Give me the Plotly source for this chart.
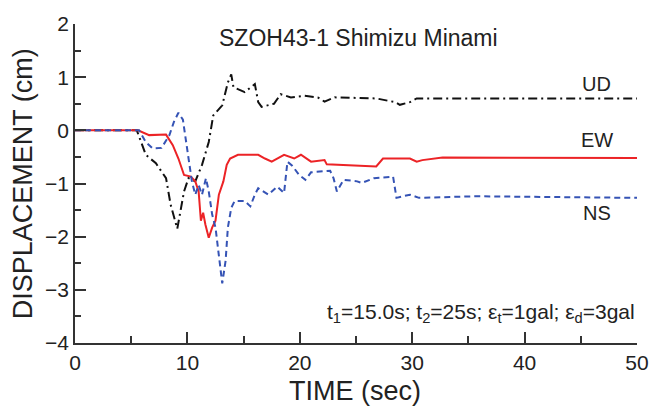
import plotly.graph_objects as go

# ---- data ----
t_ud = [0, 5.5, 6.3, 7.2, 8.1, 8.5, 9.1, 9.7, 10.1, 10.7, 11.3, 11.9, 12.3, 13.1, 13.6, 13.9,
        14.1, 15.1, 16.0, 16.3, 16.6, 17.7, 18.3, 19.2, 20.4, 21.6, 22.2, 23.1, 26.8, 28.5,
        28.9, 29.8, 30.4, 50]
d_ud = [0, 0, -0.46, -0.62, -0.9, -1.39, -1.85, -1.15, -0.9, -0.96, -0.65, -0.22, 0.28, 0.47,
        0.9, 1.05, 0.81, 0.72, 0.87, 0.53, 0.44, 0.5, 0.68, 0.62, 0.65, 0.62, 0.54, 0.62, 0.6,
        0.53, 0.48, 0.53, 0.6, 0.6]

t_ew = [0, 5.6, 6.6, 8.1, 8.7, 9.2, 9.7, 10.3, 10.7, 11.0, 11.2, 11.4, 11.6, 11.9, 12.2, 12.5,
        12.8, 13.2, 13.5, 13.8, 14.5, 16.3, 16.9, 17.5, 18.6, 19.5, 20.1, 21.0, 22.2, 22.4,
        26.8, 27.4, 29.8, 30.4, 30.9, 32.7, 50]
d_ew = [0, 0, -0.09, -0.08, -0.28, -0.53, -0.84, -0.87, -0.96, -1.15, -1.7, -1.55, -1.77, -2.02,
        -1.83, -1.7, -1.21, -0.96, -0.65, -0.53, -0.46, -0.46, -0.53, -0.59, -0.46, -0.53, -0.46,
        -0.59, -0.56, -0.64, -0.68, -0.53, -0.53, -0.59, -0.56, -0.51, -0.52]

t_ns = [0, 5.7, 6.3, 6.9, 7.7, 8.4, 8.8, 9.2, 9.6, 10.0, 10.4, 10.7, 11.0, 11.3, 11.65, 11.9,
        12.2, 12.5, 12.8, 13.1, 13.4, 13.6, 13.9, 14.2, 15.1, 15.6, 16.0, 16.3, 17.2, 18.0, 18.6,
        18.9, 19.3, 19.95, 20.5, 21.0, 22.7, 23.0, 23.3, 23.9, 25.1, 25.5, 26.6, 28.3, 28.6,
        29.8, 30.6, 35.6, 50]
d_ns = [0, 0, -0.22, -0.34, -0.33, -0.09, 0.16, 0.33, 0.2, -0.34, -0.96, -1.21, -1.03, -1.21,
        -0.9, -1.15, -1.58, -1.83, -2.39, -2.88, -2.45, -1.83, -1.46, -1.33, -1.33, -1.43, -1.21,
        -1.09, -1.21, -1.06, -1.18, -0.59, -0.66, -0.84, -0.93, -0.79, -0.76, -0.9, -1.15, -0.93,
        -0.96, -0.99, -0.9, -0.87, -1.27, -1.21, -1.27, -1.24, -1.27]

labels = ["UD", "EW", "NS"]
label_x = [46.4, 46.4, 46.4]
label_y = [0.87, -0.18, -1.55]

title_text = "SZOH43-1 Shimizu Minami"
note_text = ("t<sub>1</sub>=15.0s; t<sub>2</sub>=25s; "
             "ε<sub>t</sub>=1gal; ε<sub>d</sub>=3gal")

FONT = "Arial, Liberation Sans, sans-serif"

fig = go.Figure()
fig.add_trace(go.Scatter(x=t_ud, y=d_ud, mode="lines", name="UD",
                         line=dict(color="#111111", width=2, dash="9px,4px,2px,4px")))
fig.add_trace(go.Scatter(x=t_ew, y=d_ew, mode="lines", name="EW",
                         line=dict(color="#ec2326", width=2)))
fig.add_trace(go.Scatter(x=t_ns, y=d_ns, mode="lines", name="NS",
                         line=dict(color="#3553b5", width=2, dash="6px,4px")))

for lab, lx, ly in zip(labels, label_x, label_y):
    fig.add_annotation(x=lx, y=ly, text=lab, showarrow=False,
                       font=dict(family=FONT, size=20, color="#222"),
                       xanchor="center", yanchor="middle")

fig.add_annotation(xref="paper", yref="paper", x=0.505, y=0.957, text=title_text,
                   showarrow=False, font=dict(family=FONT, size=23, color="#222"),
                   xanchor="center", yanchor="middle")
fig.add_annotation(xref="paper", yref="paper", x=1.0, y=0.093, text=note_text,
                   showarrow=False, font=dict(family=FONT, size=21, color="#222"),
                   xanchor="right", yanchor="middle")
fig.add_annotation(xref="paper", yref="paper", x=0.498, y=-0.149, text="TIME (sec)",
                   showarrow=False, font=dict(family=FONT, size=27, color="#222"),
                   xanchor="center", yanchor="middle")
fig.add_annotation(xref="paper", yref="paper", x=-0.093, y=0.5, text="DISPLACEMENT (cm)",
                   showarrow=False, textangle=-90, font=dict(family=FONT, size=27, color="#222"),
                   xanchor="center", yanchor="middle")

axis_common = dict(showline=True, linecolor="#333", linewidth=1.5, ticks="inside",
                   tickcolor="#333", tickwidth=1.5, ticklen=11, showgrid=False,
                   zeroline=False, tickfont=dict(family=FONT, size=21, color="#222"),
                   mirror=False)

fig.update_xaxes(range=[0, 50], tick0=0, dtick=10,
                 minor=dict(ticks="inside", ticklen=7, dtick=5, tickcolor="#333", tickwidth=1.5),
                 **axis_common)
fig.update_yaxes(range=[-4, 2], tick0=0, dtick=1,
                 minor=dict(ticks="inside", ticklen=6, dtick=0.5, tickcolor="#333", tickwidth=1.5),
                 **axis_common)

fig.update_layout(width=661, height=409, margin=dict(l=75, r=18, t=21, b=66),
                  paper_bgcolor="white", plot_bgcolor="white", showlegend=False)

fig.write_html("out.html")
